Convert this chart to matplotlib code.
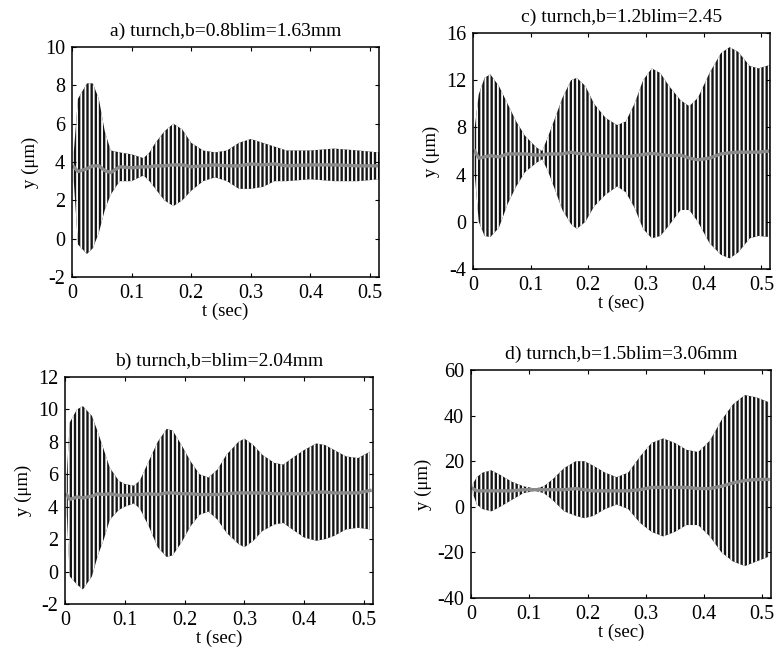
import matplotlib
matplotlib.use("Agg")
import matplotlib.pyplot as plt
import numpy as np

plt.rcParams['font.family'] = ['Liberation Serif', 'DejaVu Serif']
plt.rcParams['hatch.linewidth'] = 1.3
plt.rcParams['axes.unicode_minus'] = False

# envelope of the chatter signal (time in s, y in um)
t_a = [0.003, 0.01, 0.025, 0.035, 0.045, 0.055, 0.065, 0.08, 0.1, 0.12, 0.13, 0.14, 0.155, 0.17,
       0.185, 0.2, 0.22, 0.24, 0.26, 0.28, 0.3, 0.32, 0.34, 0.36, 0.4, 0.44, 0.48, 0.515]
up_a = [4.5, 7.3, 8.1, 8.1, 7.3, 5.6, 4.6, 4.5, 4.4, 4.2, 4.5, 5.0, 5.6, 6.0,
        5.7, 5.0, 4.6, 4.5, 4.6, 5.0, 5.2, 5.0, 4.8, 4.6, 4.6, 4.7, 4.6, 4.5]
lo_a = [3.0, -0.3, -0.8, -0.5, 0.3, 1.5, 2.3, 3.0, 3.0, 3.3, 3.0, 2.6, 2.0, 1.7,
        2.0, 2.5, 3.0, 3.2, 3.0, 2.6, 2.6, 2.7, 3.0, 3.0, 3.1, 3.0, 3.0, 3.1]

t_c = [0.003, 0.01, 0.02, 0.03, 0.045, 0.06, 0.075, 0.09, 0.11, 0.12, 0.13, 0.14, 0.155, 0.17,
       0.18, 0.195, 0.21, 0.23, 0.25, 0.265, 0.28, 0.295, 0.31, 0.325, 0.34, 0.36, 0.375,
       0.39, 0.41, 0.43, 0.445, 0.46, 0.48, 0.495, 0.515]
up_c = [8.0, 10.8, 12.2, 12.5, 11.5, 10.0, 8.5, 7.3, 6.3, 6.0, 7.2, 8.5, 10.5, 12.0,
        12.2, 11.5, 10.0, 8.8, 8.2, 8.5, 10.0, 12.0, 13.0, 12.6, 11.5, 10.3, 9.8,
        10.5, 12.6, 14.3, 14.8, 14.4, 13.2, 13.0, 13.3]
lo_c = [4.0, 0.0, -1.2, -1.3, -0.5, 1.5, 3.0, 4.2, 5.0, 5.3, 4.3, 3.0, 1.0, -0.2,
        -0.6, 0.0, 1.3, 2.3, 3.0, 2.5, 1.2, -0.6, -1.4, -1.2, -0.3, 1.0, 1.0,
        0.0, -1.8, -2.8, -3.1, -2.6, -1.4, -1.2, -1.3]

t_b = [0.003, 0.008, 0.02, 0.03, 0.045, 0.055, 0.065, 0.075, 0.09, 0.1, 0.115, 0.125, 0.14,
       0.155, 0.17, 0.18, 0.195, 0.21, 0.225, 0.24, 0.255, 0.27, 0.29, 0.3, 0.315, 0.33,
       0.35, 0.365, 0.38, 0.4, 0.42, 0.435, 0.45, 0.47, 0.49, 0.51]
up_b = [6.0, 9.2, 10.0, 10.2, 9.6, 8.6, 7.5, 6.4, 5.6, 5.4, 5.3, 5.6, 6.8,
        8.0, 8.8, 8.7, 7.8, 6.8, 6.0, 5.8, 6.3, 7.2, 8.0, 8.2, 7.8, 7.2,
        6.7, 6.6, 7.0, 7.5, 7.9, 7.8, 7.5, 7.1, 7.0, 7.4]
lo_b = [3.5, -0.3, -0.8, -1.1, -0.3, 1.0, 2.0, 3.2, 3.8, 4.0, 4.2, 3.9, 2.8,
        1.5, 0.9, 1.0, 1.8, 2.8, 3.5, 3.7, 3.2, 2.4, 1.7, 1.5, 1.9, 2.5,
        2.9, 3.0, 2.6, 2.1, 1.9, 2.0, 2.2, 2.6, 2.7, 2.6]

t_d = [0.003, 0.01, 0.02, 0.035, 0.05, 0.07, 0.09, 0.11, 0.125, 0.14, 0.16, 0.18, 0.195,
       0.21, 0.23, 0.25, 0.27, 0.29, 0.31, 0.33, 0.35, 0.37, 0.39, 0.41, 0.43, 0.45,
       0.47, 0.49, 0.51]
up_d = [10, 13, 15, 16, 14, 11, 9, 8, 9, 12, 17, 20, 20,
        18, 15, 13, 15, 22, 28, 30, 28, 25, 24, 29, 38, 45,
        49, 48, 46]
lo_d = [6, 1, -1, -2, 0, 3, 6, 7, 6, 3, -2, -4, -5,
        -4, -1, 1, -1, -7, -11, -13, -11, -8, -8, -13, -20, -24,
        -26, -24, -22]

panels = [
    ("a) turnch,b=0.8blim=1.63mm", t_a, up_a, lo_a, (-2, 10), np.arange(-2, 11, 2),
     [72, 277, 307, 230]),
    ("c) turnch,b=1.2blim=2.45", t_c, up_c, lo_c, (-4, 16), np.arange(-4, 17, 4),
     [473, 269, 297, 236]),
    ("b) turnch,b=blim=2.04mm", t_b, up_b, lo_b, (-2, 12), np.arange(-2, 13, 2),
     [65, 604, 308, 227]),
    ("d) turnch,b=1.5blim=3.06mm", t_d, up_d, lo_d, (-40, 60), np.arange(-40, 61, 20),
     [471, 598, 300, 228]),
]

W, H = 775, 653
fig = plt.figure(figsize=(W / 100, H / 100), dpi=100)

for title, t, up, lo, ylim, yticks, box in panels:
    left, bottom, w, h = box
    ax = fig.add_axes([left / W, (H - bottom) / H, w / W, h / H])
    t = np.array(t)
    up = np.array(up, dtype=float)
    lo = np.array(lo, dtype=float)
    # dense oscillation drawn as dark band with thin white vertical gaps
    ax.fill_between(t, lo, up, facecolor='#151515', edgecolor='white',
                    hatch='||||', linewidth=0)
    ax.plot(t, (up + lo) / 2, color='#8a8a8a', lw=2.4)
    ax.set_xlim(0, 0.515)
    ax.set_ylim(*ylim)
    ax.set_xticks([0, 0.1, 0.2, 0.3, 0.4, 0.5])
    ax.set_xticklabels(['0', '0.1', '0.2', '0.3', '0.4', '0.5'])
    ax.set_yticks(yticks)
    ax.tick_params(direction='in', top=True, right=True, labelsize=14.5, length=3, pad=5)
    ax.set_title(title, fontsize=14, pad=8)
    ax.set_xlabel("t (sec)", fontsize=13.5, labelpad=0)
    ax.set_ylabel("y (\u03bcm)", fontsize=13.5, labelpad=4)
    for s in ax.spines.values():
        s.set_linewidth(1.1)

fig.savefig("out.png", dpi=100)
